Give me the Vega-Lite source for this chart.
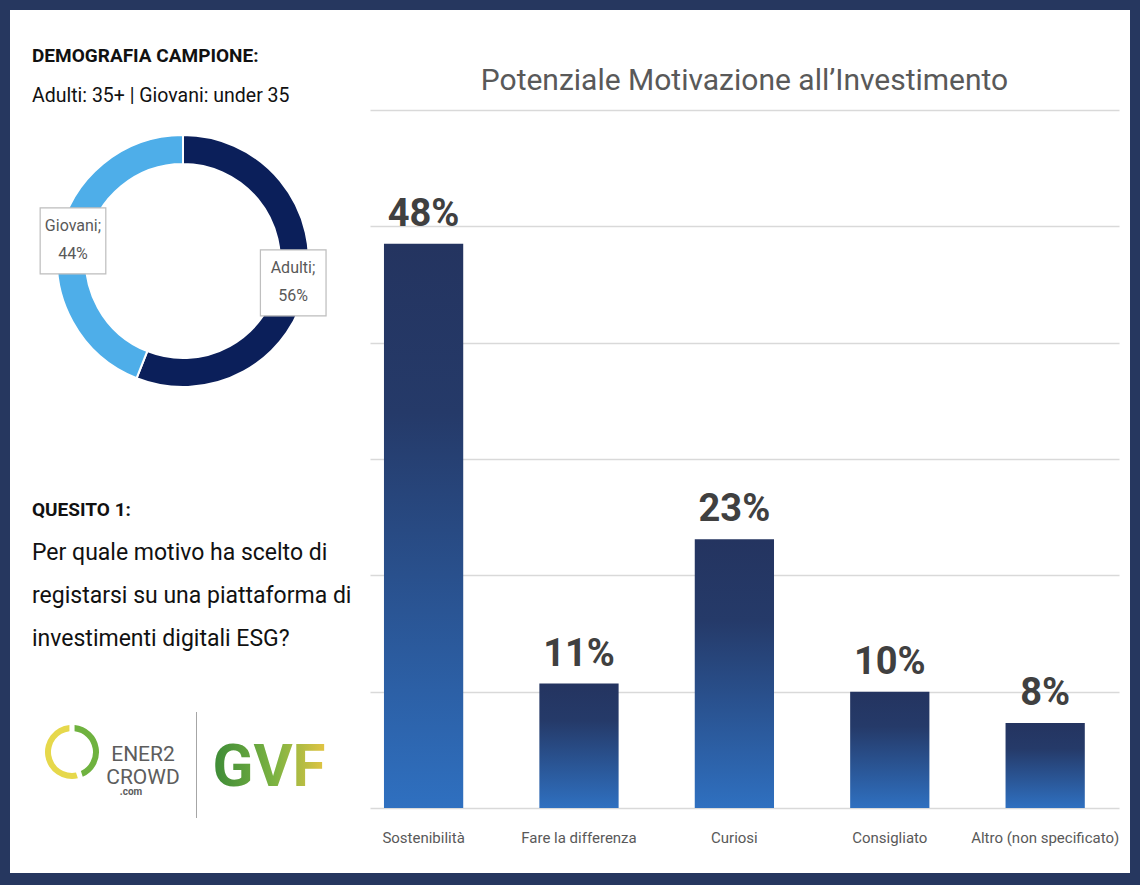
{
  "$schema": "https://vega.github.io/schema/vega-lite/v6.json",
  "background": "white",
  "padding": 0,
  "spacing": 0,
  "hconcat": [
    {"width": 10, "height": 885, "data": {"values": []}, "mark": "point", "encoding": {}, "view": {"fill": "#26375f"}},
    {
      "spacing": 28,
      "vconcat": [
        {
          "spacing": 36,
          "vconcat": [
            {"width": 1120, "height": 10, "data": {"values": []}, "mark": "point", "encoding": {}, "view": {"fill": "#26375f"}},
            {
              "spacing": 14,
              "hconcat": [
                {
                  "spacing": 89,
                  "resolve": {"scale": {"color": "independent"}},
                  "vconcat": [
                    {
                      "width": 346,
                      "height": 302,
                      "title": {
                        "text": "DEMOGRAFIA CAMPIONE:",
                        "subtitle": "Adulti: 35+ | Giovani: under 35",
                        "anchor": "start",
                        "frame": "group",
                        "dx": 22,
                        "fontSize": 19,
                        "fontWeight": "bold",
                        "color": "#111111",
                        "subtitleFontSize": 19.5,
                        "subtitleColor": "#111111",
                        "subtitlePadding": 21,
                        "offset": 5
                      },
                      "data": {"values": [
                        {"gruppo": "Adulti", "quota": 56, "ordine": 1, "etichetta": "Adulti;\n56%"},
                        {"gruppo": "Giovani", "quota": 44, "ordine": 2, "etichetta": "Giovani;\n44%"}
                      ]},
                      "encoding": {
                        "theta": {"field": "quota", "type": "quantitative", "stack": true},
                        "order": {"field": "ordine", "type": "quantitative"}
                      },
                      "layer": [
                        {
                          "mark": {"type": "arc", "outerRadius": 126, "innerRadius": 97, "stroke": "white", "strokeWidth": 2},
                          "encoding": {
                            "color": {"field": "gruppo", "type": "nominal", "scale": {"domain": ["Adulti", "Giovani"], "range": ["#0b1f5a", "#4eaee9"]}, "legend": null}
                          }
                        },
                        {
                          "mark": {"type": "text", "radius": 112, "text": "■", "font": "DejaVu Sans", "fontSize": 86, "dy": -3, "fill": "white", "stroke": "#bfbfbf", "strokeWidth": 1.2, "baseline": "middle", "align": "center"}
                        },
                        {
                          "mark": {"type": "text", "radius": 112, "lineBreak": "\n", "fontSize": 16, "lineHeight": 28, "dy": -14, "color": "#595959", "baseline": "middle"},
                          "encoding": {"text": {"field": "etichetta"}}
                        }
                      ]
                    },
                    {
                      "title": {
                        "text": "QUESITO 1:",
                        "subtitle": ["Per quale motivo ha scelto di", "registarsi su una piattaforma di", "investimenti digitali ESG?"],
                        "anchor": "start",
                        "frame": "group",
                        "dx": 22,
                        "fontSize": 19,
                        "fontWeight": "bold",
                        "color": "#111111",
                        "subtitleFontSize": 23,
                        "subtitleColor": "#111111",
                        "subtitleLineHeight": 43,
                        "subtitlePadding": 22,
                        "offset": 61
                      },
                      "spacing": 0,
                      "resolve": {"scale": {"fill": "independent"}},
                      "hconcat": [
                        {"width": 30, "height": 106, "data": {"values": []}, "mark": "point", "encoding": {}},
                        {
                          "width": 64,
                          "height": 80,
                          "data": {"values": [
                            {"parte": "verde", "quota": 45, "ordine": 1},
                            {"parte": "giallo", "quota": 55, "ordine": 2}
                          ]},
                          "mark": {"type": "arc", "outerRadius": 27, "innerRadius": 21, "padAngle": 0.15},
                          "encoding": {
                            "theta": {"field": "quota", "type": "quantitative", "stack": true},
                            "order": {"field": "ordine", "type": "quantitative"},
                            "fill": {"field": "parte", "type": "nominal", "scale": {"domain": ["verde", "giallo"], "range": ["#6fb23f", "#e6d84b"]}, "legend": null}
                          }
                        },
                        {
                          "width": 78,
                          "height": 106,
                          "data": {"values": [{"riga": "ENER2\nCROWD", "sito": ".com"}]},
                          "layer": [
                            {
                              "mark": {"type": "text", "lineBreak": "\n", "fontSize": 21, "lineHeight": 23, "color": "#5d5d5d", "dy": -10, "baseline": "middle"},
                              "encoding": {"text": {"field": "riga"}}
                            },
                            {
                              "mark": {"type": "text", "fontSize": 10, "fontWeight": "bold", "color": "#5d5d5d", "dy": 27, "dx": -12, "baseline": "middle"},
                              "encoding": {"text": {"field": "sito"}}
                            }
                          ]
                        },
                        {"width": 14, "height": 106, "data": {"values": []}, "mark": "point", "encoding": {}},
                        {"width": 1, "height": 106, "data": {"values": []}, "mark": "point", "encoding": {}, "view": {"fill": "#a6a6a6"}},
                        {"width": 15, "height": 106, "data": {"values": []}, "mark": "point", "encoding": {}},
                        {
                          "width": 112,
                          "height": 106,
                          "data": {"values": [{"marchio": "GVF"}]},
                          "mark": {
                            "type": "text",
                            "fontSize": 60,
                            "fontWeight": "bold",
                            "baseline": "middle",
                            "dy": 3,
                            "fill": {
                              "gradient": "linear",
                              "x1": 0, "y1": 0, "x2": 1, "y2": 0,
                              "stops": [
                                {"offset": 0, "color": "#3d8b37"},
                                {"offset": 0.55, "color": "#7cb342"},
                                {"offset": 1, "color": "#e3c443"}
                              ]
                            }
                          },
                          "encoding": {"text": {"field": "marchio"}}
                        }
                      ]
                    }
                  ]
                },
                {
                  "width": 749,
                  "height": 698,
                  "title": {
                    "text": "Potenziale Motivazione all’Investimento",
                    "fontSize": 30,
                    "fontWeight": "normal",
                    "color": "#595959",
                    "anchor": "middle",
                    "frame": "group",
                    "dy": 10,
                    "offset": 24
                  },
                  "data": {"values": [
                    {"motivo": "Sostenibilità", "quota": 48.5, "etichetta": "48%"},
                    {"motivo": "Fare la differenza", "quota": 10.7, "etichetta": "11%"},
                    {"motivo": "Curiosi", "quota": 23.1, "etichetta": "23%"},
                    {"motivo": "Consigliato", "quota": 10.0, "etichetta": "10%"},
                    {"motivo": "Altro (non specificato)", "quota": 7.3, "etichetta": "8%"}
                  ]},
                  "encoding": {
                    "x": {
                      "field": "motivo",
                      "type": "nominal",
                      "sort": null,
                      "scale": {"paddingInner": 0.49, "paddingOuter": 0.155, "align": 0.29},
                      "axis": {"title": null, "labelAngle": 0, "labelFontSize": 15, "labelColor": "#595959", "labelPadding": 22, "ticks": false, "domain": false, "grid": false}
                    },
                    "y": {
                      "field": "quota",
                      "type": "quantitative",
                      "scale": {"domain": [0, 60], "nice": false},
                      "axis": {"title": null, "labels": false, "ticks": false, "domain": false, "values": [0, 10, 20, 30, 40, 50, 60], "gridColor": "#d9d9d9", "gridWidth": 1.5}
                    }
                  },
                  "layer": [
                    {
                      "mark": {
                        "type": "bar",
                        "fill": {
                          "gradient": "linear",
                          "x1": 0, "y1": 0, "x2": 0, "y2": 1,
                          "stops": [
                            {"offset": 0, "color": "#243460"},
                            {"offset": 0.3, "color": "#253a69"},
                            {"offset": 1, "color": "#2f70c0"}
                          ]
                        }
                      }
                    },
                    {
                      "mark": {"type": "text", "baseline": "alphabetic", "dy": -18, "fontSize": 38, "fontWeight": "bold", "color": "#404040"},
                      "encoding": {"text": {"field": "etichetta"}}
                    }
                  ]
                }
              ]
            }
          ]
        },
        {"width": 1120, "height": 12, "data": {"values": []}, "mark": "point", "encoding": {}, "view": {"fill": "#26375f"}}
      ]
    },
    {"width": 10, "height": 885, "data": {"values": []}, "mark": "point", "encoding": {}, "view": {"fill": "#26375f"}}
  ],
  "config": {
    "font": "Roboto",
    "view": {"stroke": null}
  }
}
